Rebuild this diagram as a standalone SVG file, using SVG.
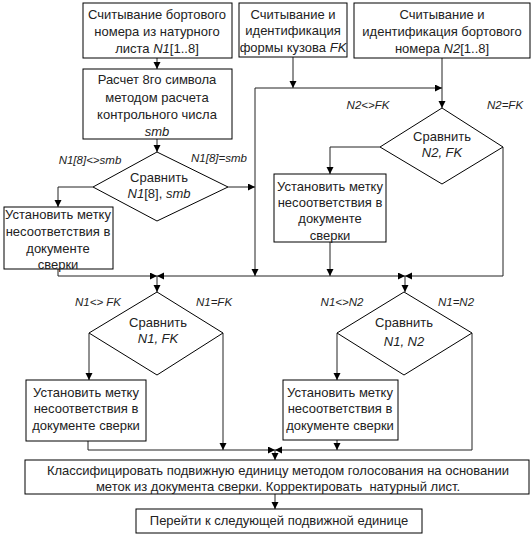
<svg xmlns="http://www.w3.org/2000/svg" width="532" height="537" viewBox="0 0 532 537">
<defs>
<marker id="ah" markerUnits="userSpaceOnUse" markerWidth="8" markerHeight="8" refX="7" refY="3.5" orient="auto">
<path d="M0,0 L7,3.5 L0,7 z" fill="#000"/>
</marker>
<style>
.box{fill:#fff;stroke:#000;stroke-width:1}
.dia{fill:#fff;stroke:#000;stroke-width:1}
.t{font-family:"Liberation Sans",Arial,sans-serif;font-size:13px;fill:#222;text-anchor:middle}
.lb{font-family:"Liberation Sans",Arial,sans-serif;font-size:11.5px;fill:#222;font-style:italic;text-anchor:middle}
.i{font-style:italic}
.c{fill:none;stroke:#222;stroke-width:1}
.ca{fill:none;stroke:#222;stroke-width:1;marker-end:url(#ah)}
</style>
</defs>
<rect width="532" height="537" fill="#fff"/>

<g id="connectors">
<path class="ca" d="M157,58 V69"/>
<path class="ca" d="M157,139 V152"/>
<path class="ca" d="M93,187 H58 V207"/>
<path class="ca" d="M228,187 H255"/>
<path class="ca" d="M293,57 V88"/>
<path class="ca" d="M255,88 H442"/>
<path class="ca" d="M255,88 V276"/>
<path class="ca" d="M442,58 V108"/>
<path class="ca" d="M380,147 H330 V174"/>
<path class="ca" d="M503,147 V276 H405"/>
<path class="ca" d="M330,242 V276"/>
<path class="ca" d="M58,269 V276 H157"/>
<path class="ca" d="M255,276 H157"/>
<path class="ca" d="M255,276 H405"/>
<path class="ca" d="M157,276 V292"/>
<path class="ca" d="M405,276 V292"/>
<path class="ca" d="M89,333 V380"/>
<path class="ca" d="M223,333 V450"/>
<path class="ca" d="M88,441 V450 H275"/>
<path class="ca" d="M337,333 V380"/>
<path class="ca" d="M472,333 V450 H275"/>
<path class="ca" d="M337,440 V450"/>
<path class="ca" d="M275,450 V460"/>
<path class="ca" d="M275,494 V509"/>
</g>

<g id="read-n1">
<rect class="box" x="83" y="3" width="149" height="55"/>
<text class="t" x="157" y="19">Считывание бортового</text>
<text class="t" x="157" y="36">номера из натурного</text>
<text class="t" x="157" y="53">листа <tspan class="i">N1</tspan>[1..8]</text>
</g>

<g id="calc-smb">
<rect class="box" x="83" y="69" width="149" height="70"/>
<text class="t" x="157" y="84">Расчет 8го символа</text>
<text class="t" x="157" y="102">методом расчета</text>
<text class="t" x="157" y="119">контрольного числа</text>
<text class="t i" x="157" y="136">smb</text>
</g>

<g id="read-fk">
<rect class="box" x="239" y="3" width="108" height="54"/>
<text class="t" x="293" y="19">Считывание и</text>
<text class="t" x="293" y="35">идентификация</text>
<text class="t" x="293" y="52">формы кузова <tspan class="i">FK</tspan></text>
</g>

<g id="read-n2">
<rect class="box" x="354" y="3" width="176" height="55"/>
<text class="t" x="442" y="19">Считывание и</text>
<text class="t" x="442" y="36">идентификация бортового</text>
<text class="t" x="442" y="53">номера <tspan class="i">N2</tspan>[1..8]</text>
</g>

<g id="cmp-n1-smb">
<polygon class="dia" points="157,152 228,187 157,221 93,187"/>
<text class="t" x="159" y="182">Сравнить</text>
<text class="t" x="159" y="198"><tspan class="i">N1</tspan>[8], <tspan class="i">smb</tspan></text>
<text class="lb" x="90" y="164">N1[8]&lt;&gt;smb</text>
<text class="lb" x="219" y="162">N1[8]=smb</text>
</g>

<g id="mark-1">
<rect class="box" x="4" y="207" width="109" height="62"/>
<text class="t" x="58" y="219">Установить метку</text>
<text class="t" x="58" y="236">несоответствия в</text>
<text class="t" x="58" y="253">документе</text>
<text class="t" x="58" y="269">сверки</text>
</g>

<g id="cmp-n2-fk">
<polygon class="dia" points="442,108 503,147 442,184 380,147"/>
<text class="t" x="442" y="141">Сравнить</text>
<text class="t i" x="442" y="157">N2, FK</text>
<text class="lb" x="368" y="109">N2&lt;&gt;FK</text>
<text class="lb" x="505" y="109">N2=FK</text>
</g>

<g id="mark-2">
<rect class="box" x="274" y="174" width="112" height="68"/>
<text class="t" x="330" y="191">Установить метку</text>
<text class="t" x="330" y="207">несоответствия в</text>
<text class="t" x="330" y="223">документе</text>
<text class="t" x="330" y="240">сверки</text>
</g>

<g id="cmp-n1-fk">
<polygon class="dia" points="157,292 223,333 157,375 89,333"/>
<text class="t" x="158" y="327">Сравнить</text>
<text class="t i" x="158" y="343">N1, FK</text>
<text class="lb" x="98" y="306">N1&lt;&gt; FK</text>
<text class="lb" x="214" y="306">N1=FK</text>
</g>

<g id="mark-3">
<rect class="box" x="26" y="380" width="120" height="61"/>
<text class="t" x="86" y="397">Установить метку</text>
<text class="t" x="86" y="413">несоответствия в</text>
<text class="t" x="86" y="430">документе сверки</text>
</g>

<g id="cmp-n1-n2">
<polygon class="dia" points="404,292 472,333 404,375 337,333"/>
<text class="t" x="404" y="327">Сравнить</text>
<text class="t i" x="404" y="346">N1, N2</text>
<text class="lb" x="342" y="306">N1&lt;&gt;N2</text>
<text class="lb" x="456" y="306">N1=N2</text>
</g>

<g id="mark-4">
<rect class="box" x="283" y="380" width="115" height="60"/>
<text class="t" x="340" y="397">Установить метку</text>
<text class="t" x="340" y="413">несоответствия в</text>
<text class="t" x="340" y="430">документе сверки</text>
</g>

<g id="classify">
<rect class="box" x="25" y="460" width="504" height="34"/>
<text class="t" x="278" y="475">Классифицировать подвижную единицу методом голосования на основании</text>
<text class="t" x="278" y="491">меток из документа сверки. Корректировать&#160; натурный лист.</text>
</g>

<g id="next">
<rect class="box" x="136" y="509" width="286" height="24"/>
<text class="t" x="279" y="525">Перейти к следующей подвижной единице</text>
</g>
</svg>
